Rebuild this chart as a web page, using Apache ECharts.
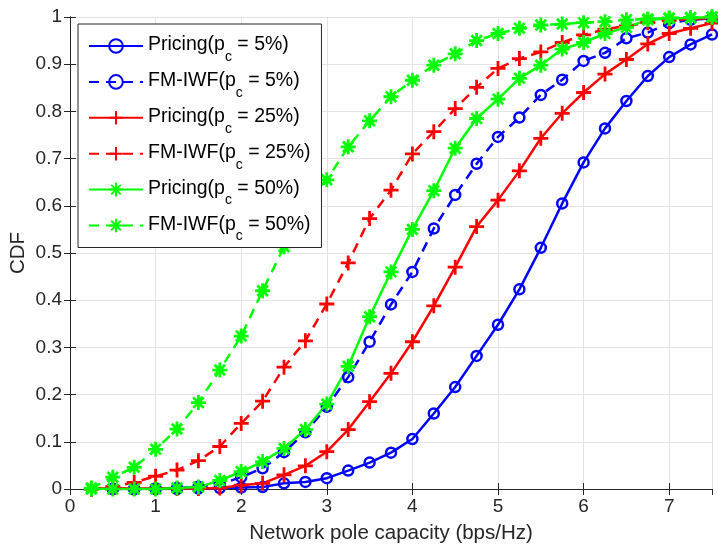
<!DOCTYPE html>
<html>
<head>
<meta charset="utf-8">
<script src="https://cdn.jsdelivr.net/npm/echarts@6/dist/echarts.min.js"></script>
<style>
  html, body { margin: 0; padding: 0; background: #fff; }
  #chart { width: 718px; height: 545px; }
</style>
</head>
<body>
<div id="chart"></div>
<script>
// x positions (bps/Hz)
const xs = [0.25, 0.5, 0.75, 1.0, 1.25, 1.5, 1.75, 2.0, 2.25, 2.5, 2.75, 3.0, 3.25, 3.5, 3.75,
  4.0, 4.25, 4.5, 4.75, 5.0, 5.25, 5.5, 5.75, 6.0, 6.25, 6.5, 6.75, 7.0, 7.25, 7.5];

const pricing5 = ['-', 0, 0, 0, 0, 0.001, 0.002, 0.003, 0.004, 0.012, 0.015, 0.023, 0.039, 0.056, 0.077,
  0.106, 0.16, 0.216, 0.282, 0.348, 0.423, 0.511, 0.605, 0.692, 0.764, 0.822, 0.875, 0.915, 0.942, 0.963];
const fmiwf5 = ['-', 0, 0, 0.001, 0.002, 0.005, 0.01, 0.025, 0.044, 0.078, 0.12, 0.174, 0.237, 0.312, 0.391,
  0.46, 0.552, 0.623, 0.689, 0.746, 0.787, 0.835, 0.867, 0.907, 0.924, 0.955, 0.967, 0.987, 0.994, 0.997];
const pricing25 = [0, 0.002, 0.001, 0.001, 0.001, 0.001, 0.002, 0.008, 0.012, 0.03, 0.049, 0.079, 0.126, 0.185, 0.245,
  0.312, 0.388, 0.47, 0.556, 0.612, 0.674, 0.743, 0.796, 0.84, 0.879, 0.91, 0.943, 0.965, 0.976, 0.987];
const fmiwf25 = [0, 0.005, 0.014, 0.027, 0.04, 0.06, 0.09, 0.139, 0.186, 0.258, 0.314, 0.392, 0.479, 0.573, 0.633,
  0.71, 0.757, 0.806, 0.851, 0.891, 0.912, 0.926, 0.946, 0.962, 0.974, 0.981, 0.988, 0.993, 0.996, 0.998];
const pricing50 = [0, 0, 0, 0, 0.002, 0.004, 0.018, 0.037, 0.058, 0.086, 0.126, 0.18, 0.26, 0.365, 0.46,
  0.55, 0.632, 0.722, 0.785, 0.826, 0.87, 0.898, 0.932, 0.946, 0.965, 0.978, 0.994, 0.997, 0.998, 1.0];
const fmiwf50 = [0.002, 0.025, 0.046, 0.084, 0.127, 0.183, 0.252, 0.324, 0.42, 0.513, 0.59, 0.655, 0.725, 0.78, 0.831,
  0.866, 0.898, 0.922, 0.95, 0.965, 0.976, 0.983, 0.985, 0.988, 0.99, 0.994, 0.996, 0.998, 0.999, 1.0];

const seriesNames = ['Pricing(p_c = 5%)', 'FM-IWF(p_c = 5%)', 'Pricing(p_c = 25%)',
  'FM-IWF(p_c = 25%)', 'Pricing(p_c = 50%)', 'FM-IWF(p_c = 50%)'];

const PLUS = 'path://M0,5L10,5M5,0L5,10';
const STAR = 'path://M0,5L10,5M5,0L5,10M1.5,1.5L8.5,8.5M1.5,8.5L8.5,1.5';
const dash = [10, 7];
const txt = '#262626';
const font = 'Liberation Sans, Arial, sans-serif';

function makeSeries(name, ys, color, symbol, size, dashed) {
  return {
    name: name,
    type: 'line',
    data: xs.map((x, i) => [x, ys[i]]),
    symbol: symbol,
    symbolSize: size,
    showAllSymbol: true,
    lineStyle: { color: color, width: 2.5, type: dashed ? dash : 'solid' },
    itemStyle: {
      color: symbol === 'circle' ? 'rgba(255,255,255,0)' : color,
      borderColor: color,
      borderWidth: symbol === 'circle' ? 2.5 : 2.8
    },
    emphasis: { disabled: true },
    z: 3
  };
}

const chart = echarts.init(document.getElementById('chart'));

const option = {
  backgroundColor: '#fff',
  animation: false,
  textStyle: { fontFamily: font },
  grid: { left: 70, right: 6, top: 17, bottom: 56, outerBoundsMode: 'none', containLabel: false },
  legend: {
    orient: 'vertical',
    left: 78,
    top: 24,
    padding: [11, 11, 4, 10],
    backgroundColor: '#fff',
    borderColor: txt,
    borderWidth: 1,
    borderRadius: 0,
    itemWidth: 54,
    itemHeight: 17,
    itemGap: 6.9,
    data: seriesNames,
    textStyle: {
      fontSize: 19.5,
      color: '#000',
      fontFamily: font,
      rich: {
        a: { fontSize: 19.5, fontFamily: font, color: '#000', lineHeight: 22, verticalAlign: 'top' },
        s: { fontSize: 14, fontFamily: font, color: '#000', lineHeight: 14, verticalAlign: 'top', padding: [15, 0, 0, 0] }
      }
    },
    formatter: name => {
      const parts = name.split('_c');
      return '{a|' + parts[0] + '}{s|c}{a|' + parts[1] + '}';
    }
  },
  xAxis: [{
    type: 'value',
    min: 0, max: 7.5, interval: 1,
    name: 'Network pole capacity (bps/Hz)',
    nameLocation: 'middle',
    nameGap: 34,
    nameTextStyle: { fontSize: 20.5, color: txt, fontFamily: font },
    axisLine: { show: true, onZero: false, lineStyle: { color: txt } },
    axisTick: { show: true, inside: true, length: 6, lineStyle: { color: txt } },
    axisLabel: { fontSize: 19, color: txt, margin: 8, showMaxLabel: false, fontFamily: font },
    splitLine: { show: true, lineStyle: { color: '#e3e3e3', width: 1 } }
  }, {
    type: 'value', position: 'top',
    min: 0, max: 7.5, interval: 1,
    axisLine: { show: true, lineStyle: { color: txt } },
    axisTick: { show: true, inside: true, length: 6, lineStyle: { color: txt } },
    axisLabel: { show: false },
    splitLine: { show: false }
  }],
  yAxis: [{
    type: 'value',
    min: 0, max: 1, interval: 0.1,
    name: 'CDF',
    nameLocation: 'middle',
    nameGap: 41,
    nameMoveOverlap: false,
    nameTextStyle: { fontSize: 20.5, color: txt, fontFamily: font },
    axisLine: { show: true, onZero: false, lineStyle: { color: txt } },
    axisTick: { show: true, inside: true, length: 6, lineStyle: { color: txt } },
    axisLabel: { fontSize: 19, color: txt, margin: 8, fontFamily: font,
      formatter: v => String(Math.round(v * 10) / 10) },
    splitLine: { show: true, lineStyle: { color: '#e3e3e3', width: 1 } }
  }, {
    type: 'value', position: 'right',
    min: 0, max: 1, interval: 0.1,
    axisLine: { show: true, lineStyle: { color: txt } },
    axisTick: { show: true, inside: true, length: 6, lineStyle: { color: txt } },
    axisLabel: { show: false },
    splitLine: { show: false }
  }],
  series: [
    makeSeries(seriesNames[0], pricing5, '#0000ff', 'circle', 10, false),
    makeSeries(seriesNames[1], fmiwf5, '#0000ff', 'circle', 10, true),
    makeSeries(seriesNames[2], pricing25, '#ff0000', PLUS, 15, false),
    makeSeries(seriesNames[3], fmiwf25, '#ff0000', PLUS, 15, true),
    makeSeries(seriesNames[4], pricing50, '#00ff00', STAR, 15, false),
    makeSeries(seriesNames[5], fmiwf50, '#00ff00', STAR, 15, true)
  ]
};

chart.setOption(option);
</script>
</body>
</html>
